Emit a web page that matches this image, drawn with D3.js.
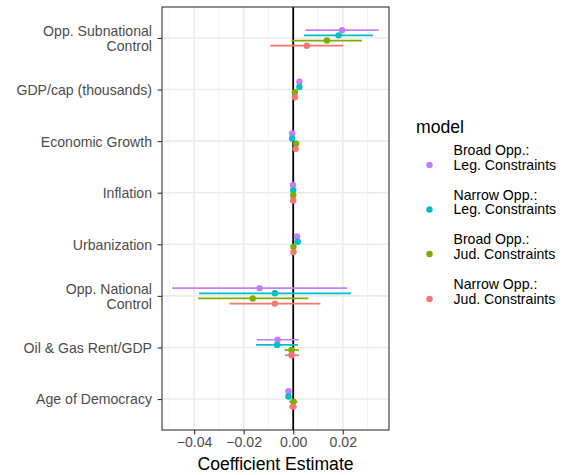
<!DOCTYPE html>
<html>
<head>
<meta charset="utf-8">
<script src="https://cdn.jsdelivr.net/npm/d3@7"></script>
<style>
  html, body { margin: 0; padding: 0; background: #fff; }
  svg { display: block; font-family: "Liberation Sans", Arial, Helvetica, sans-serif; }
</style>
</head>
<body>
<svg id="chart" width="565" height="475"></svg>
<script>
// Coefficient plot: four model specifications, point estimates with intervals
const variables = [
  "Opp. Subnational\nControl",
  "GDP/cap (thousands)",
  "Economic Growth",
  "Inflation",
  "Urbanization",
  "Opp. National\nControl",
  "Oil & Gas Rent/GDP",
  "Age of Democracy"
];

const models = [
  "Broad Opp.:\nLeg. Constraints",
  "Narrow Opp.:\nLeg. Constraints",
  "Broad Opp.:\nJud. Constraints",
  "Narrow Opp.:\nJud. Constraints"
];

const modelColors = ["#C77CFF", "#00BFC4", "#7CAE00", "#F8766D"];

// estimates, one array per model, in the order of `variables`
const estBroadLeg  = [0.0197, 0.0025, -0.0004, -0.0001, 0.0015, -0.0136, -0.0063, -0.0019];
const estNarrowLeg = [0.0183, 0.0025, -0.0004,  0.0000, 0.0018, -0.0074, -0.0065, -0.0019];
const estBroadJud  = [0.0136, 0.0007,  0.0012,  0.0000, 0.0001, -0.0163, -0.0007,  0.0001];
const estNarrowJud = [0.0055, 0.0007,  0.0010,  0.0000, 0.0001, -0.0074, -0.0007, -0.0001];

const lowBroadLeg  = [0.0050, 0.0021, -0.0007, -0.0003, 0.0003, -0.0488, -0.0147, -0.0022];
const lowNarrowLeg = [0.0043, 0.0020, -0.0007, -0.0002, 0.0006, -0.0380, -0.0150, -0.0022];
const lowBroadJud  = [-0.0007, 0.0004, 0.0009, -0.0002, -0.0004, -0.0384, -0.0035, -0.0016];
const lowNarrowJud = [-0.0093, 0.0004, 0.0007, -0.0002, -0.0004, -0.0257, -0.0033, -0.0017];

const highBroadLeg  = [0.0345, 0.0029, -0.0001, 0.0001, 0.0028, 0.0218, 0.0022, -0.0016];
const highNarrowLeg = [0.0322, 0.0030, -0.0001, 0.0002, 0.0030, 0.0234, 0.0019, -0.0016];
const highBroadJud  = [0.0277, 0.0010,  0.0015, 0.0002, 0.0006, 0.0061, 0.0023,  0.0017];
const highNarrowJud = [0.0203, 0.0010,  0.0013, 0.0002, 0.0006, 0.0110, 0.0023,  0.0015];

const xTicks = [-0.04, -0.02, 0.00, 0.02];
const xMinor = [-0.05, -0.03, -0.01, 0.01, 0.03];
const xTickLabels = ["\u22120.04", "\u22120.02", "0.00", "0.02"];

const estimates = [estBroadLeg, estNarrowLeg, estBroadJud, estNarrowJud];
const lows = [lowBroadLeg, lowNarrowLeg, lowBroadJud, lowNarrowJud];
const highs = [highBroadLeg, highNarrowLeg, highBroadJud, highNarrowJud];

const rows = [];
models.forEach((m, mi) => {
  variables.forEach((v, vi) => {
    rows.push({ model: mi, variable: vi, est: estimates[mi][vi], lo: lows[mi][vi], hi: highs[mi][vi] });
  });
});

// ---- layout ----
const panel = { left: 162, right: 389, top: 7, bottom: 430 };
const svg = d3.select("#chart");
svg.append("rect").attr("width", 565).attr("height", 475).attr("fill", "#fff");

// x: data range with 5% padding on each side
const dMin = d3.min(rows, d => d.lo), dMax = d3.max(rows, d => d.hi);
const pad = (dMax - dMin) * 0.05;
const x = d3.scaleLinear().domain([dMin - pad, dMax + pad]).range([panel.left, panel.right]);

// y: discrete positions with 0.6 units of padding
const y = d3.scaleLinear().domain([-0.6, variables.length - 1 + 0.6]).range([panel.top, panel.bottom]);
const dodge = [-0.15, -0.05, 0.05, 0.15];

const gGrid = svg.append("g");
xMinor.forEach(t => {
  gGrid.append("line").attr("x1", x(t)).attr("x2", x(t)).attr("y1", panel.top).attr("y2", panel.bottom)
    .attr("stroke", "#F2F2F2").attr("stroke-width", 0.9);
});
xTicks.forEach(t => {
  gGrid.append("line").attr("x1", x(t)).attr("x2", x(t)).attr("y1", panel.top).attr("y2", panel.bottom)
    .attr("stroke", "#EBEBEB").attr("stroke-width", 1.6);
});
variables.forEach((v, i) => {
  gGrid.append("line").attr("x1", panel.left).attr("x2", panel.right).attr("y1", y(i)).attr("y2", y(i))
    .attr("stroke", "#EBEBEB").attr("stroke-width", 1.6);
});

// reference line at zero
svg.append("line").attr("x1", x(0)).attr("x2", x(0)).attr("y1", panel.top).attr("y2", panel.bottom)
  .attr("stroke", "#000").attr("stroke-width", 1.8);

// intervals and points
const gMarks = svg.append("g");
gMarks.selectAll("line.ci").data(rows).join("line").attr("class", "ci")
  .attr("x1", d => x(d.lo)).attr("x2", d => x(d.hi))
  .attr("y1", d => y(d.variable + dodge[d.model])).attr("y2", d => y(d.variable + dodge[d.model]))
  .attr("stroke", d => modelColors[d.model]).attr("stroke-width", 1.7);
gMarks.selectAll("circle.pt").data(rows).join("circle").attr("class", "pt")
  .attr("cx", d => x(d.est)).attr("cy", d => y(d.variable + dodge[d.model]))
  .attr("r", 3.2).attr("fill", d => modelColors[d.model]);

// panel border
svg.append("rect").attr("x", panel.left).attr("y", panel.top)
  .attr("width", panel.right - panel.left).attr("height", panel.bottom - panel.top)
  .attr("fill", "none").attr("stroke", "#333").attr("stroke-width", 1.1);

// x axis
const xAxis = d3.axisBottom(x).tickValues(xTicks).tickFormat((d, i) => xTickLabels[i]).tickSize(4.4).tickPadding(3);
const gx = svg.append("g").attr("transform", `translate(0,${panel.bottom})`).call(xAxis);
gx.select(".domain").remove();
gx.selectAll(".tick line").attr("stroke", "#333").attr("stroke-width", 1.1);
gx.selectAll(".tick text").attr("fill", "#4D4D4D").attr("font-size", "14.1px")
  .attr("font-family", "Liberation Sans, Arial, sans-serif");

// y axis with multi-line labels
const yAxis = d3.axisLeft(y).tickValues(d3.range(variables.length)).tickFormat("").tickSize(4.4);
const gy = svg.append("g").attr("transform", `translate(${panel.left},0)`).call(yAxis);
gy.select(".domain").remove();
gy.selectAll(".tick line").attr("stroke", "#333").attr("stroke-width", 1.1);
gy.selectAll(".tick").each(function (d) {
  const lines = variables[d].split("\n");
  const t = d3.select(this).append("text").attr("x", -10).attr("fill", "#4D4D4D")
    .attr("font-size", "14.1px").attr("text-anchor", "end");
  const lh = 15;
  const y0 = -((lines.length - 1) * lh) / 2;
  lines.forEach((ln, k) => {
    t.append("tspan").attr("x", -10).attr("y", y0 + k * lh).attr("dy", "0.35em").text(ln);
  });
});

// x title
svg.append("text").attr("x", (panel.left + panel.right) / 2).attr("y", 463.5).attr("dy", "0.35em")
  .attr("text-anchor", "middle").attr("font-size", "17.6px").attr("fill", "#000").text("Coefficient Estimate");

// legend
const lg = svg.append("g");
lg.append("text").attr("x", 416).attr("y", 126.5).attr("dy", "0.35em").attr("font-size", "17.6px")
  .attr("fill", "#000").text("model");
const keyY = [165, 209.5, 254, 299];
models.forEach((m, i) => {
  lg.append("circle").attr("cx", 429.5).attr("cy", keyY[i]).attr("r", 3.2).attr("fill", modelColors[i]);
  const parts = m.split("\n");
  parts.forEach((p, k) => {
    lg.append("text").attr("x", 453.5).attr("y", keyY[i] - 14.5 + k * 14.5).attr("dy", "0.35em")
      .attr("font-size", "14.1px").attr("fill", "#000").text(p);
  });
});
</script>
</body>
</html>
